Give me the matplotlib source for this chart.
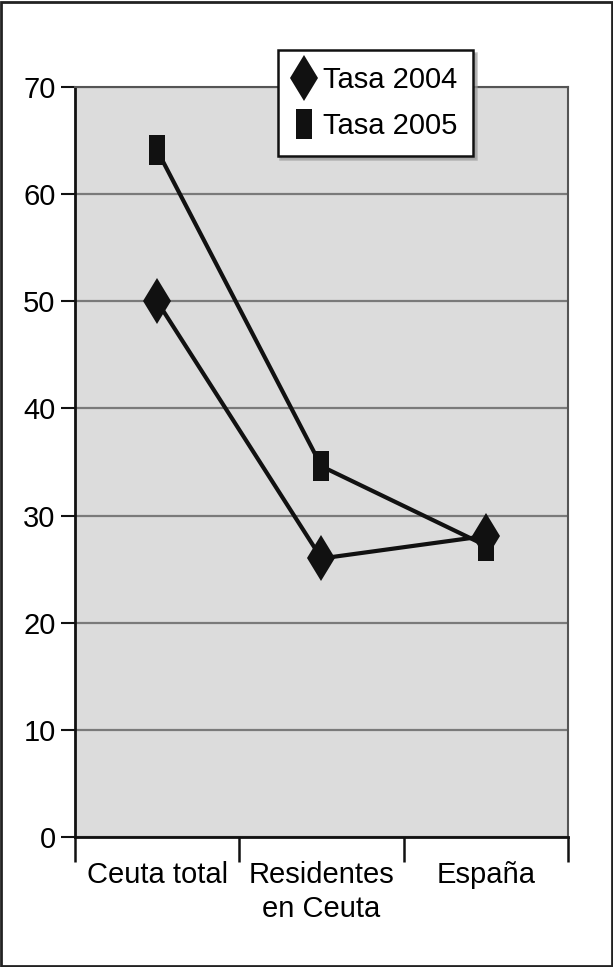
import matplotlib
matplotlib.use("Agg")
import matplotlib.pyplot as plt
from matplotlib.patches import Rectangle
from matplotlib.lines import Line2D

categories = ["Ceuta total", "Residentes\nen Ceuta", "España"]
tasa_2004 = [50.0, 26.0, 28.1]
tasa_2005 = [64.1, 34.6, 27.2]
series_labels = ["Tasa 2004", "Tasa 2005"]
y_ticks = [0, 10, 20, 30, 40, 50, 60, 70]

plt.rcParams['font.family'] = ['Liberation Sans', 'DejaVu Sans']
FS = 21

fig = plt.figure(figsize=(6.13, 9.67), dpi=100)
ax = fig.add_axes([0.1223, 0.1344, 0.8043, 0.7756])
ax.set_facecolor('#dcdcdc')

x = [i + 0.5 for i in range(len(categories))]
rect_marker = [(-0.5, -1), (0.5, -1), (0.5, 1), (-0.5, 1), (-0.5, -1)]

ax.plot(x, tasa_2004, color='#111111', lw=3.0, marker='d', markersize=23,
        markeredgewidth=0, zorder=3)
ax.plot(x, tasa_2005, color='#111111', lw=3.0, marker=rect_marker, markersize=22,
        markeredgewidth=0, zorder=3)

ax.set_xlim(0, len(categories))
ax.set_ylim(0, 70)
ax.set_yticks(y_ticks)
ax.set_yticklabels([str(v) for v in y_ticks], fontsize=FS)
ax.set_xticks(range(len(categories) + 1))
ax.set_xticklabels([])
ax.set_xticks(x, minor=True)
ax.set_xticklabels(categories, minor=True, fontsize=FS, linespacing=1.3)
ax.tick_params(axis='x', which='minor', length=0, pad=17)
ax.tick_params(axis='x', which='major', length=18, width=1.8, color='#111111', direction='out')
ax.tick_params(axis='y', length=10, width=1.5, color='#111111', pad=4)

ax.yaxis.grid(True, color='#7a7a7a', lw=1.6)
ax.set_axisbelow(True)
for s in ['left', 'bottom']:
    ax.spines[s].set_color('#111111')
    ax.spines[s].set_linewidth(2.0)
for s in ['top', 'right']:
    ax.spines[s].set_color('#555555')
    ax.spines[s].set_linewidth(1.5)

handles = [
    Line2D([], [], ls='none', color='#111111', marker='d', markersize=23, markeredgewidth=0),
    Line2D([], [], ls='none', color='#111111', marker=rect_marker, markersize=22, markeredgewidth=0),
]
leg = fig.legend(handles, series_labels, loc='upper left', bbox_to_anchor=(0.453, 0.948),
                 fontsize=FS, frameon=True, fancybox=False,
                 shadow={'color': '#999999', 'alpha': 0.6},
                 handlelength=0.7, handletextpad=0.3, borderpad=0.55, labelspacing=0.6,
                 borderaxespad=0, edgecolor='#111111', framealpha=1)
leg.get_frame().set_linewidth(1.8)

fig.patches.append(Rectangle((0.002, 0.001), 0.996, 0.997, transform=fig.transFigure,
                             fill=False, edgecolor='#222222', lw=2))

fig.savefig('out.png', dpi=100)
